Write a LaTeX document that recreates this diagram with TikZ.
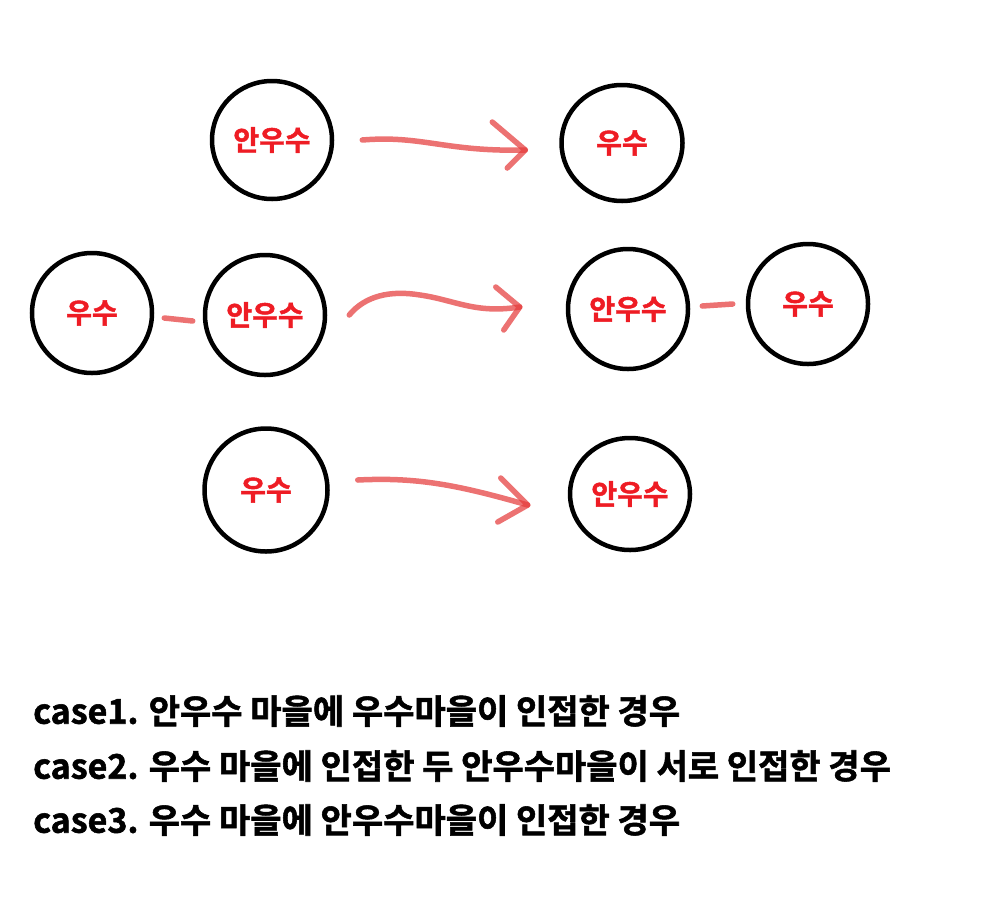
\documentclass[tikz,border=0pt]{standalone}
\usepackage{fontspec}
\setmainfont{Noto Sans CJK KR}[BoldFont={* Bold}, BoldFeatures={FakeBold=1.6}]
\usetikzlibrary{shapes.geometric,calc}
\definecolor{lblred}{HTML}{EE1C24}
\definecolor{penred}{HTML}{E53B3B}
\tikzset{
  village/.style={draw=black, line width=4.5pt, ellipse, inner sep=0pt,
    minimum width=120pt, minimum height=118pt, text=lblred,
    font=\fontsize{28}{28}\selectfont\bfseries},
  crayon/.style={draw=penred, line width=5.5pt, line cap=round, line join=round, opacity=0.72},
  caption/.style={anchor=west, inner sep=0pt, font=\fontsize{34}{34}\selectfont\bfseries}
}
\begin{document}
\begin{tikzpicture}[x=1pt,y=-1pt]
\useasboundingbox (0,0) rectangle (1008,916);
% row 1
\node[village] (A1) at (272,140) {안우수};
\node[village, minimum width=121pt, minimum height=116pt] (B1) at (622,143) {우수};
% row 2
\node[village, minimum height=120pt] (C2) at (92,313) {우수};
\node[village, minimum height=120pt] (D2) at (265,315) {안우수};
\node[village, minimum height=120pt] (E2) at (628,309) {안우수};
\node[village, minimum height=120pt] (F2) at (808,304) {우수};
% row 3
\node[village, minimum width=123pt, minimum height=123pt] (G3) at (266,490) {우수};
\node[village, minimum height=112pt] (H3) at (630,494) {안우수};

% arrows
\coordinate (s1) at ($(A1.east)+(28,0)$);
\coordinate (e1) at ($(B1.west)+(-34,7)$);
\draw[crayon] (s1) .. controls +(60,-5) and +(-80,2) .. (e1);
\draw[crayon] ($(e1)+(-33,-28)$) -- (e1) -- ++(-18,18);

\coordinate (s2) at ($(D2.east)+(22,0)$);
\coordinate (e2) at ($(E2.west)+(-46,-2)$);
\draw[crayon] (s2) .. controls (365,296) and (390,290) .. (420,295)
  .. controls (455,300) and (475,314) .. (e2);
\draw[crayon] ($(e2)+(-24,-20)$) -- (e2) -- ++(-16,23);

\coordinate (s3) at ($(G3.east)+(28,-10)$);
\coordinate (e3) at ($(H3.west)+(-40,11)$);
\draw[crayon] (s3) .. controls +(60,-3) and +(-70,-20) .. (e3);
\draw[crayon] ($(e3)+(-27,-27)$) -- (e3) -- ++(-30,17);

% adjacency dashes
\draw[crayon] ($(C2.east)+(10,5)$) -- ($(D2.west)+(-10,6)$);
\draw[crayon] ($(E2.east)+(12,-3)$) -- ($(F2.west)+(-13,0)$);

% captions
\node[caption] (t1) at (33,711) {case1. 안우수 마을에 우수마을이 인접한 경우};
\node[caption] (t2) at (33,766) {case2. 우수 마을에 인접한 두 안우수마을이 서로 인접한 경우};
\node[caption] (t3) at (33,820) {case3. 우수 마을에 안우수마을이 인접한 경우};
\end{tikzpicture}
\end{document}
